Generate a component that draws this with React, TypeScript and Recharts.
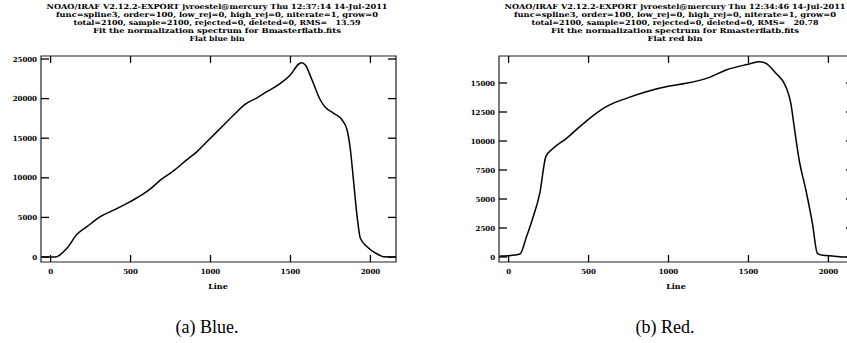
import React from 'react';
import { LineChart, Line, XAxis, YAxis, ReferenceArea } from 'recharts';

// x ticks shared by both panels
const lineTicks = [0, 500, 1000, 1500, 2000];
const lineDomain = [-60, 2160];

// (a) blue bin
const blueLine = [-54, 29, 102, 165, 227, 311, 405, 498, 582, 624, 686, 770, 853, 916, 957, 999, 1062, 1145, 1218, 1291, 1353, 1437, 1499, 1552, 1572, 1593, 1635, 1687, 1718, 1771, 1823, 1854, 1875, 1896, 1917, 1937, 1979, 2042, 2083, 2160];
const blueFlux = [0, 0, 1094, 2862, 3830, 5093, 6019, 6987, 7990, 8600, 9700, 10900, 12300, 13300, 14141, 14983, 16246, 17929, 19300, 20100, 20875, 21927, 22980, 24369, 24537, 24242, 22348, 19823, 18897, 18140, 17298, 16035, 13510, 9301, 5093, 2357, 1305, 379, 42, 0];
const blueTicks = [0, 5000, 10000, 15000, 20000, 25000];
const blueDomain = [-631, 25379];
const blueTitle = [
  'NOAO/IRAF V2.12.2-EXPORT jvroestel@mercury Thu 12:37:14 14-Jul-2011',
  'func=spline3, order=100, low_rej=0, high_rej=0, niterate=1, grow=0',
  'total=2100, sample=2100, rejected=0, deleted=0, RMS=   13.59',
  'Fit the normalization spectrum for Bmasterflatb.fits',
  'Flat blue bin',
];

// (b) red bin
const redLine = [-54, 0, 71, 112, 154, 195, 233, 279, 362, 445, 507, 611, 736, 861, 1006, 1110, 1256, 1360, 1505, 1568, 1609, 1672, 1734, 1765, 1786, 1817, 1859, 1900, 1931, 1963, 2025, 2112, 2160];
const redFlux = [86, 115, 259, 1753, 3477, 5489, 8649, 9368, 10230, 11236, 11954, 12960, 13678, 14253, 14741, 14971, 15488, 16121, 16638, 16839, 16695, 15833, 14684, 13247, 11236, 8362, 5776, 2902, 316, 144, 86, 0, 0];
const redTicks = [0, 2500, 5000, 7500, 10000, 12500, 15000];
const redDomain = [-431, 17328];
const redTitle = [
  'NOAO/IRAF V2.12.2-EXPORT jvroestel@mercury Thu 12:34:46 14-Jul-2011',
  'func=spline3, order=100, low_rej=0, high_rej=0, niterate=1, grow=0',
  'total=2100, sample=2100, rejected=0, deleted=0, RMS=   20.78',
  'Fit the normalization spectrum for Rmasterflatb.fits',
  'Flat red bin',
];

const titleWidths = [341, 322, 287, 248, 55];
const titleY = [6, 14, 22, 30, 38];

const irafFont = '"DejaVu Serif", serif';
const PLOT_TOP = 56;
const PLOT_BOTTOM = 262;
const CHART_H = 300;

const Panel = ({ xs, ys, yTicks, yDomain, left, width, yAxisWidth }) => {
  const data = xs.map((x, i) => ({ line: x, flux: ys[i] }));
  const plotLeft = yAxisWidth;
  const plotRight = width - 24;

  const xTick = (props) => {
    const { x, payload } = props;
    return (
      <g key={`xt-${payload.value}`}>
        <line x1={x} x2={x} y1={PLOT_BOTTOM} y2={PLOT_BOTTOM - 7} stroke="#000" strokeWidth={1.3} />
        <line x1={x} x2={x} y1={PLOT_TOP} y2={PLOT_TOP + 7} stroke="#000" strokeWidth={1.3} />
        <text x={x} y={274} textAnchor="middle" fontFamily={irafFont} fontWeight="bold" fontSize={7} fill="#000">
          {payload.value}
        </text>
      </g>
    );
  };

  const yTick = (props) => {
    const { y, payload } = props;
    return (
      <g key={`yt-${payload.value}`}>
        <line x1={plotLeft} x2={plotLeft + 8} y1={y} y2={y} stroke="#000" strokeWidth={1.3} />
        <line x1={plotRight} x2={plotRight - 8} y1={y} y2={y} stroke="#000" strokeWidth={1.3} />
        <text x={plotLeft - 4} y={y + 2.5} textAnchor="end" fontFamily={irafFont} fontWeight="bold" fontSize={7} fill="#000">
          {payload.value}
        </text>
      </g>
    );
  };

  return (
    <div style={{ position: 'absolute', left, top: 0 }}>
      <LineChart
        width={width}
        height={CHART_H}
        data={data}
        margin={{ top: PLOT_TOP, right: 24, bottom: 0, left: 0 }}
      >
        <XAxis
          dataKey="line"
          type="number"
          domain={lineDomain}
          ticks={lineTicks}
          allowDataOverflow
          axisLine={false}
          tickLine={false}
          height={CHART_H - PLOT_BOTTOM}
          tick={xTick}
        />
        <YAxis
          type="number"
          domain={yDomain}
          ticks={yTicks}
          allowDataOverflow
          axisLine={false}
          tickLine={false}
          width={yAxisWidth}
          tick={yTick}
        />
        <ReferenceArea
          x1={lineDomain[0]}
          x2={lineDomain[1]}
          y1={yDomain[0]}
          y2={yDomain[1]}
          fill="none"
          stroke="#222"
          strokeWidth={1.2}
          fillOpacity={0}
        />
        <Line
          type="monotone"
          dataKey="flux"
          stroke="#000"
          strokeWidth={1.5}
          dot={false}
          isAnimationActive={false}
        />
      </LineChart>
    </div>
  );
};

const Titles = ({ lines, cx }) => (
  <>
    {lines.map((t, i) => (
      <text
        key={i}
        x={cx}
        y={titleY[i] + 3}
        textAnchor="middle"
        fontFamily={irafFont}
        fontWeight="bold"
        fontSize={7}
        textLength={titleWidths[i]}
        lengthAdjust="spacingAndGlyphs"
        style={{ whiteSpace: 'pre' }}
        fill="#000"
      >
        {t}
      </text>
    ))}
  </>
);

export default function App() {
  return (
    <div style={{ position: 'absolute', left: 0, top: 0, width: 847, height: 343, overflow: 'hidden', background: '#fff' }}>
      <Panel xs={blueLine} ys={blueFlux} yTicks={blueTicks} yDomain={blueDomain} left={0} width={420} yAxisWidth={41} />
      <Panel xs={redLine} ys={redFlux} yTicks={redTicks} yDomain={redDomain} left={420} width={458} yAxisWidth={79} />
      <svg width={847} height={343} style={{ position: 'absolute', left: 0, top: 0, pointerEvents: 'none' }}>
        <Titles lines={blueTitle} cx={217} />
        <Titles lines={redTitle} cx={675} />
        <text x={218} y={289} textAnchor="middle" fontFamily={irafFont} fontWeight="bold" fontSize={8} fill="#000">Line</text>
        <text x={676} y={289} textAnchor="middle" fontFamily={irafFont} fontWeight="bold" fontSize={8} fill="#000">Line</text>
        <text x={207} y={333} textAnchor="middle" fontFamily='"Liberation Serif", serif' fontSize={18} fill="#000">(a) Blue.</text>
        <text x={665} y={333} textAnchor="middle" fontFamily='"Liberation Serif", serif' fontSize={18} fill="#000">(b) Red.</text>
      </svg>
    </div>
  );
}
